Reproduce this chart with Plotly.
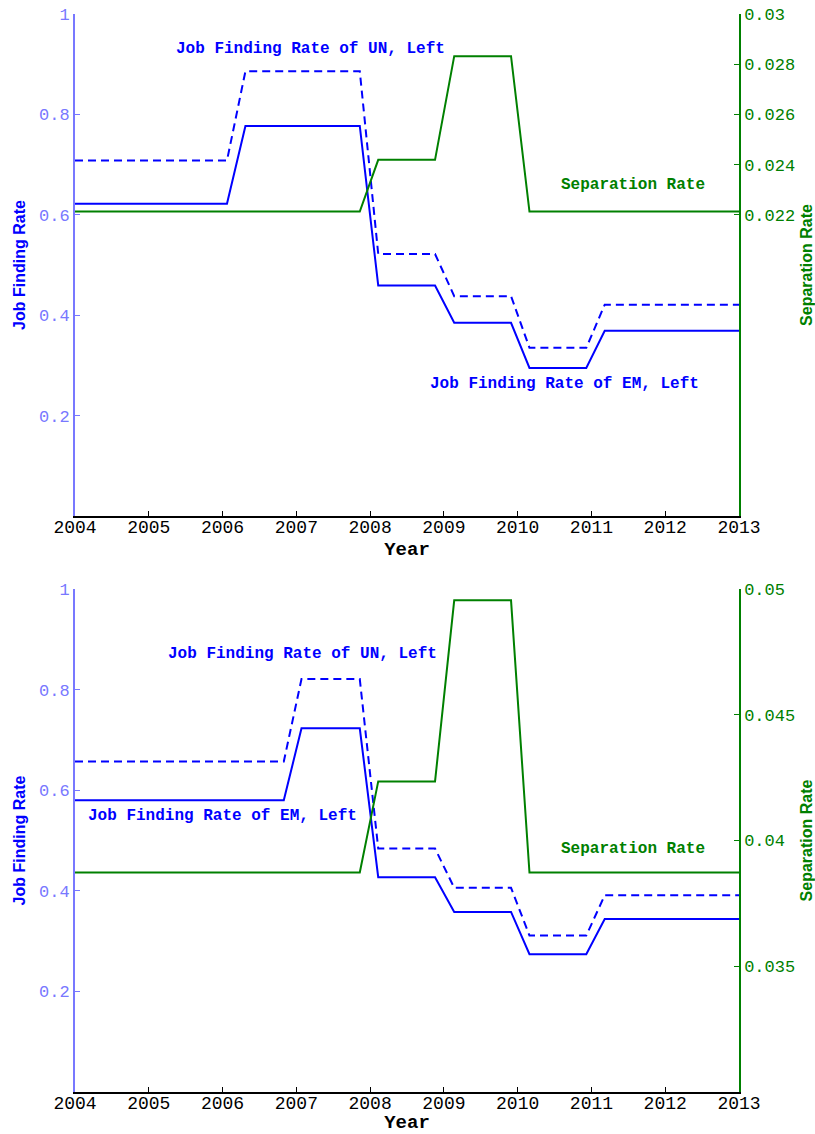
import plotly.graph_objects as go
from plotly.subplots import make_subplots

# ---- data -------------------------------------------------------------
years_top = [2004, 2006.06, 2006.31, 2007.86, 2008.11, 2008.88, 2009.14,
             2009.91, 2010.16, 2010.93, 2011.18, 2013]
em_top = [0.622, 0.622, 0.777, 0.777, 0.459, 0.459, 0.385, 0.385,
          0.295, 0.295, 0.369, 0.369]
un_top = [0.708, 0.708, 0.886, 0.886, 0.522, 0.522, 0.438, 0.438,
          0.335, 0.335, 0.421, 0.421]
sep_years_top = [2004, 2007.86, 2008.11, 2008.88, 2009.14, 2009.91, 2010.16, 2013]
sep_top = [0.02213, 0.02213, 0.02419, 0.02419, 0.02832, 0.02832, 0.02213, 0.02213]

years_bot = [2004, 2006.83, 2007.07, 2007.86, 2008.11, 2008.88, 2009.14,
             2009.91, 2010.16, 2010.93, 2011.18, 2013]
em_bot = [0.580, 0.580, 0.723, 0.723, 0.427, 0.427, 0.358, 0.358,
          0.274, 0.274, 0.344, 0.344]
un_bot = [0.657, 0.657, 0.821, 0.821, 0.484, 0.484, 0.406, 0.406,
          0.311, 0.311, 0.391, 0.391]
sep_years_bot = [2004, 2007.86, 2008.11, 2008.88, 2009.14, 2009.91, 2010.16, 2013]
sep_bot = [0.03873, 0.03873, 0.04235, 0.04235, 0.04955, 0.04955, 0.03873, 0.03873]

year_ticks = list(range(2004, 2014))
left_ticks = [0.2, 0.4, 0.6, 0.8, 1]
left_tick_text = ["0.2", "0.4", "0.6", "0.8", "1"]
right_ticks_top = [0.022, 0.024, 0.026, 0.028, 0.03]
right_ticks_bot = [0.035, 0.04, 0.045, 0.05]

# ---- styling ----------------------------------------------------------
BLUE = "rgb(0,0,255)"
LIGHT_BLUE = "rgb(120,120,255)"
GREEN = "rgb(0,128,0)"
MONO = "Courier New, Liberation Mono, monospace"
SANS = "Arial, Liberation Sans, Helvetica, sans-serif"

fig = make_subplots(rows=2, cols=1, specs=[[{"secondary_y": True}],
                                           [{"secondary_y": True}]])

for row, yrs, em, un, syrs, sep in [
    (1, years_top, em_top, un_top, sep_years_top, sep_top),
    (2, years_bot, em_bot, un_bot, sep_years_bot, sep_bot),
]:
    fig.add_trace(go.Scatter(x=yrs, y=em, mode="lines",
                             line=dict(color=BLUE, width=2),
                             showlegend=False), row=row, col=1, secondary_y=False)
    fig.add_trace(go.Scatter(x=yrs, y=un, mode="lines",
                             line=dict(color=BLUE, width=2, dash="8px,5px"),
                             showlegend=False), row=row, col=1, secondary_y=False)
    fig.add_trace(go.Scatter(x=syrs, y=sep, mode="lines",
                             line=dict(color=GREEN, width=2),
                             showlegend=False), row=row, col=1, secondary_y=True)

TOP_DOMAIN = [0.5343, 1.0]
BOT_DOMAIN = [0.0, 0.4666]

xaxis_common = dict(range=[2004, 2013], tickvals=year_ticks, domain=[0, 1],
                    ticks="inside", ticklen=5, tickcolor="black",
                    showline=True, linecolor="black", linewidth=1.5,
                    showgrid=False, zeroline=False, automargin=False,
                    ticklabelstandoff=-6,
                    tickfont=dict(family=MONO, size=18, color="black"),
                    title=dict(text="<b>Year</b>",
                               font=dict(family=MONO, size=19, color="black"),
                               standoff=4))
fig.update_xaxes(**xaxis_common, row=1, col=1)
fig.update_xaxes(**xaxis_common, row=2, col=1)

left_common = dict(range=[0, 1], tickvals=left_ticks, ticktext=left_tick_text,
                   ticks="inside", ticklen=5, tickcolor=LIGHT_BLUE,
                   showline=True, linecolor=LIGHT_BLUE, linewidth=2,
                   showgrid=False, zeroline=False, automargin=False,
                   tickfont=dict(family=MONO, size=17, color=LIGHT_BLUE),
                   title=dict(text="<b>Job Finding Rate</b>",
                              font=dict(family=SANS, size=16, color=BLUE),
                              standoff=9))
fig.update_yaxes(**left_common, row=1, col=1, secondary_y=False)
fig.update_yaxes(**left_common, row=2, col=1, secondary_y=False)

right_common = dict(ticks="inside", ticklen=5, tickcolor=GREEN,
                    showline=True, linecolor=GREEN, linewidth=1.5,
                    showgrid=False, zeroline=False, automargin=False,
                    tickfont=dict(family=MONO, size=17, color=GREEN),
                    title=dict(text="<b>Separation Rate</b>",
                               font=dict(family=SANS, size=16, color=GREEN),
                               standoff=8))
fig.update_yaxes(**right_common, range=[0.01, 0.03], tickvals=right_ticks_top,
                 row=1, col=1, secondary_y=True)
fig.update_yaxes(**right_common, range=[0.03, 0.05], tickvals=right_ticks_bot,
                 tickformat="~g", row=2, col=1, secondary_y=True)

fig.update_layout(yaxis=dict(domain=TOP_DOMAIN), yaxis2=dict(domain=TOP_DOMAIN),
                  yaxis3=dict(domain=BOT_DOMAIN), yaxis4=dict(domain=BOT_DOMAIN))

# ---- in-plot labels ---------------------------------------------------
labels = [
    ("x", "y", 2007.19, 0.930, "Job Finding Rate of UN, Left", BLUE),
    ("x", "y", 2011.56, 0.660, "Separation Rate", GREEN),
    ("x", "y", 2010.64, 0.262, "Job Finding Rate of EM, Left", BLUE),
    ("x2", "y3", 2007.08, 0.870, "Job Finding Rate of UN, Left", BLUE),
    ("x2", "y3", 2006.00, 0.549, "Job Finding Rate of EM, Left", BLUE),
    ("x2", "y3", 2011.56, 0.484, "Separation Rate", GREEN),
]
for xr, yr, lx, ly, txt, col in labels:
    fig.add_annotation(x=lx, y=ly, xref=xr, yref=yr, text=f"<b>{txt}</b>",
                       showarrow=False, xanchor="center", yanchor="middle",
                       font=dict(family=MONO, size=16, color=col))

fig.update_layout(width=815, height=1134,
                  margin=dict(l=75, r=76, t=14, b=42, autoexpand=False),
                  plot_bgcolor="white", paper_bgcolor="white",
                  showlegend=False)

fig.write_html("out.html")
